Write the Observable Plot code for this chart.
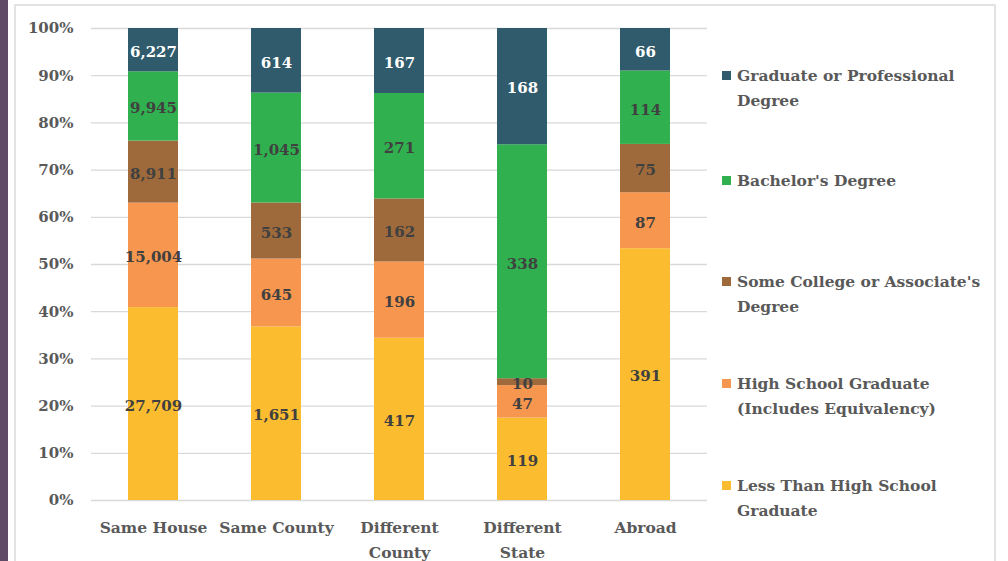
<!DOCTYPE html>
<html>
<head>
<meta charset="utf-8">
<script src="https://cdn.jsdelivr.net/npm/d3@7"></script>
<script src="https://cdn.jsdelivr.net/npm/@observablehq/plot@0.6"></script>
<style>
  html, body { margin: 0; padding: 0; background: #fff; }
  #wrap { position: relative; width: 1008px; height: 561px; overflow: hidden; font-family: "DejaVu Serif", serif; }
  #strip { position: absolute; left: 0; top: 0; width: 8px; height: 561px; background: #5f4b66; }
  #frame { position: absolute; left: 14px; top: 4px; width: 982px; height: 600px; border: 2px solid #e3e3e3; box-sizing: border-box; }
  #chart { position: absolute; left: 0; top: 0; }
  .leg { position: absolute; left: 722px; font-weight: bold; color: #595959; font-size: 15.5px; line-height: 25px; }
  .leg .sw { position: absolute; left: 0; top: 8px; width: 9px; height: 9px; }
  .leg .tx { margin-left: 15px; white-space: nowrap; }
</style>
</head>
<body>
<div id="wrap">
  <div id="strip"></div>
  <div id="frame"></div>
  <div id="chart"></div>
  <div id="legend"></div>
</div>
<script>
const categories = ["Same House", "Same County", "Different County", "Different State", "Abroad"];
const categoryLabels = ["Same House", "Same County", "Different\nCounty", "Different\nState", "Abroad"];
// bottom-to-top stacking order
const levels = [
  "Less Than High School Graduate",
  "High School Graduate (Includes Equivalency)",
  "Some College or Associate's Degree",
  "Bachelor's Degree",
  "Graduate or Professional Degree"
];
const lessThanHS = [27709, 1651, 417, 119, 391];
const highSchool = [15004, 645, 196, 47, 87];
const someCollege = [8911, 533, 162, 10, 75];
const bachelors = [9945, 1045, 271, 338, 114];
const graduate = [6227, 614, 167, 168, 66];
const colors = ["#fbbd2f", "#f6964f", "#9e6a3b", "#30b04f", "#2f5b6c"];
const labelColors = ["#404040", "#404040", "#404040", "#404040", "#ffffff"];
const yTicks = [0, 0.1, 0.2, 0.3, 0.4, 0.5, 0.6, 0.7, 0.8, 0.9, 1];

const series = [lessThanHS, highSchool, someCollege, bachelors, graduate];
const data = [];
categories.forEach((c, i) => {
  levels.forEach((l, j) => data.push({category: c, level: l, value: series[j][i], color: colors[j], labelColor: labelColors[j]}));
});
const fmt = d3.format(",");
const labelOf = Object.fromEntries(categories.map((c, i) => [c, categoryLabels[i]]));

const stackOpts = (extra) => Plot.stackY({
  x: "category", y: "value", z: "level", offset: "normalize", order: levels, ...extra
});

const chart = Plot.plot({
  width: 707,
  height: 561,
  marginLeft: 91,
  marginRight: 0,
  marginTop: 28,
  marginBottom: 61,
  style: {fontFamily: "DejaVu Serif, serif", fontSize: "15px", fontWeight: "bold", color: "#595959", background: "transparent"},
  x: {domain: categories, paddingInner: 0.593, paddingOuter: 0.3, label: null},
  y: {domain: [0, 1], label: null},
  color: {type: "identity"},
  marks: [
    Plot.gridY(yTicks, {stroke: "#d9d9d9", strokeOpacity: 1, strokeWidth: 1.3}),
    Plot.barY(data, stackOpts({fill: "color"})),
    Plot.text(data, stackOpts({
      text: d => fmt(d.value), fill: "labelColor", fontSize: 15, fontWeight: "bold", dy: 2
    })),
    Plot.axisY({ticks: yTicks, tickFormat: d3.format(".0%"), tickSize: 0, tickPadding: 18, fill: "#595959", fontSize: 15, label: null}),
    Plot.axisX({tickSize: 0, tickPadding: 14, tickFormat: d => labelOf[d], fill: "#595959", fontSize: 15.5, lineHeight: 1.65, label: null})
  ]
});
document.getElementById("chart").appendChild(chart);

const legendTops = [63, 168, 269, 371, 473];
const legendLines = [
  ["Graduate or Professional", "Degree"],
  ["Bachelor's Degree"],
  ["Some College or Associate's", "Degree"],
  ["High School Graduate", "(Includes Equivalency)"],
  ["Less Than High School", "Graduate"]
];
const legend = document.getElementById("legend");
[4, 3, 2, 1, 0].forEach((j, k) => {
  const div = document.createElement("div");
  div.className = "leg";
  div.style.top = legendTops[k] + "px";
  const sw = document.createElement("div");
  sw.className = "sw";
  sw.style.background = colors[j];
  div.appendChild(sw);
  const tx = document.createElement("div");
  tx.className = "tx";
  tx.innerHTML = legendLines[k].join("<br>");
  div.appendChild(tx);
  legend.appendChild(div);
});
</script>
</body>
</html>
